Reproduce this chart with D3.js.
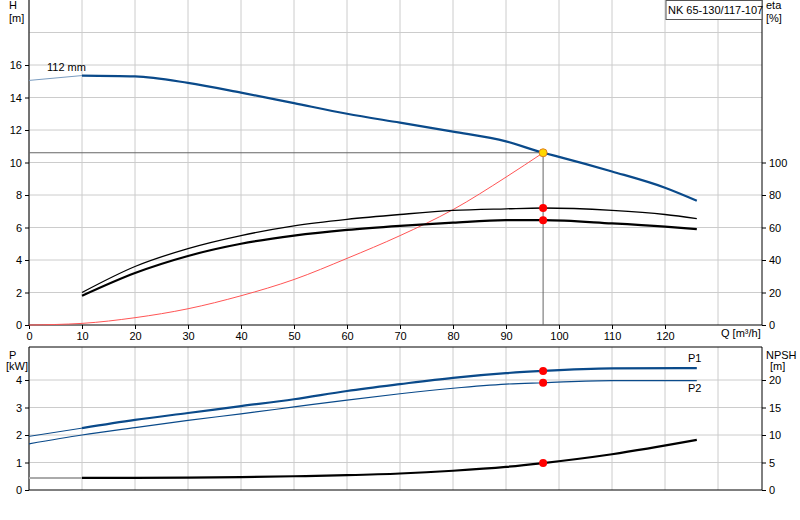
<!DOCTYPE html><html><head><meta charset="utf-8"><script src="https://cdn.jsdelivr.net/npm/d3@7"></script>
<style>body{margin:0;background:#fff}text{font-family:Arial,"Liberation Sans",sans-serif;font-size:11px;fill:#000}</style></head><body><svg width="800" height="520"></svg><script>
const qTicks=[0,10,20,30,40,50,60,70,80,90,100,110,120];
const hTicks=[0,2,4,6,8,10,12,14,16];
const etaTicks=[0,20,40,60,80,100];
const pTicks=[0,1,2,3,4];
const npshTicks=[0,5,10,15,20];
const hQ=[10,20,30,40,50,60,70,80,90,97,100,110,120,126];
const hVal=[15.35,15.3,14.9,14.3,13.65,13.0,12.45,11.9,11.3,10.6,10.35,9.45,8.45,7.65];
const hExt=[[0,15.05],[10,15.35]];
const etaQ=[10,20,30,40,50,60,70,80,90,97,110,120,126];
const eta1=[20,36,47,55,61,65,68,70.5,71.5,72,70.5,68,65.5];
const eta2=[18,32,42.5,50,55,58.5,61,63,64.5,64.5,62.5,60.5,59];
const sysQ=[0,10,20,30,40,50,60,70,80,90,97];
const sysH=[0,0.1,0.45,1.0,1.8,2.8,4.1,5.5,7.1,9.1,10.6];
const pQ=[0,10,20,30,40,50,60,70,80,90,97,110,126];
const p1=[1.95,2.25,2.55,2.8,3.05,3.3,3.6,3.85,4.08,4.25,4.33,4.42,4.43];
const p2=[1.68,2.0,2.27,2.53,2.77,3.02,3.27,3.5,3.7,3.85,3.9,3.98,3.98];
const nQ=[0,10,20,30,40,50,60,70,80,90,97,110,126];
const npsh=[2.2,2.2,2.2,2.25,2.35,2.5,2.7,3.0,3.5,4.2,4.9,6.5,9.1];
const duty={q:97,h:10.6,eta1:72,eta2:64.5,p1:4.33,p2:3.9,npsh:4.9};

const svg=d3.select("svg");
const x=d3.scaleLinear().domain([0,138.3]).range([29,762]);
const yH=d3.scaleLinear().domain([0,20]).range([325,0]);
const yE=d3.scaleLinear().domain([0,200]).range([325,0]);
const yP=d3.scaleLinear().domain([0,5.2]).range([490,347]);
const yN=d3.scaleLinear().domain([0,26]).range([490,347]);
function grid(yScale,vals,y0,y1){
  svg.append("g").selectAll("line").data(qTicks.concat([130])).join("line").attr("x1",d=>x(d)).attr("x2",d=>x(d)).attr("y1",y0).attr("y2",y1).attr("stroke","#ccc");
  svg.append("g").selectAll("line").data(vals).join("line").attr("x1",29).attr("x2",762).attr("y1",d=>yScale(d)).attr("y2",d=>yScale(d)).attr("stroke","#ccc");
}
grid(yH,[2,4,6,8,10,12,14,16,18],0,325);
grid(yP,[1,2,3,4],347,490);
const fmt=d3.format("d");
svg.append("g").attr("transform","translate(29,0)").call(d3.axisLeft(yH).tickValues(hTicks).tickFormat(fmt).tickSize(4)).call(g=>g.select(".domain").attr("d","M0,0V325"));
svg.append("g").attr("transform","translate(762,0)").call(d3.axisRight(yE).tickValues(etaTicks).tickFormat(fmt).tickSize(4)).call(g=>g.select(".domain").attr("d","M0,0V325"));
svg.append("g").attr("transform","translate(0,325)").call(d3.axisBottom(x).tickValues(qTicks).tickFormat(fmt).tickSize(4)).call(g=>g.select(".domain").attr("d","M29,0H762"));
svg.append("g").attr("transform","translate(29,0)").call(d3.axisLeft(yP).tickValues(pTicks).tickFormat(fmt).tickSize(4)).call(g=>g.select(".domain").attr("d","M0,347V490"));
svg.append("g").attr("transform","translate(762,0)").call(d3.axisRight(yN).tickValues(npshTicks).tickFormat(fmt).tickSize(4)).call(g=>g.select(".domain").attr("d","M0,347V490"));
svg.append("line").attr("x1",29).attr("x2",762).attr("y1",490).attr("y2",490).attr("stroke","#000");
svg.append("line").attr("x1",29).attr("x2",762).attr("y1",347).attr("y2",347).attr("stroke","#000");
svg.selectAll(".tick text").style("font-size","11px");
svg.selectAll(".tick line").attr("stroke","#000");
const T=(t,xx,yy,a)=>svg.append("text").attr("x",xx).attr("y",yy).attr("text-anchor",a||"start").text(t);
T("H",9,9);T("[m]",9,22);T("eta",766,9);T("[%]",766,22);
T("P",9,359);T("[kW]",6,370);T("NPSH",766,359);T("[m]",770,370);
T("Q [m³/h]",721,337);T("112 mm",47,71);T("P1",688,362);T("P2",688,392);
svg.append("rect").attr("x",666).attr("y",0.5).attr("width",96).attr("height",19).attr("fill","#fff").attr("stroke","#555");
T("NK 65-130/117-107",668,14);
svg.append("line").attr("x1",29).attr("x2",x(duty.q)).attr("y1",yH(duty.h)).attr("y2",yH(duty.h)).attr("stroke","#666");
svg.append("line").attr("x1",x(duty.q)).attr("x2",x(duty.q)).attr("y1",yH(duty.h)).attr("y2",325).attr("stroke","#666");
const L=(xs,ys,sx,sy,c,w)=>svg.append("path").datum(xs.map((q,i)=>[q,ys[i]])).attr("fill","none").attr("stroke",c).attr("stroke-width",w).attr("d",d3.line().x(d=>x(d[0])).y(d=>sy(d[1])).curve(d3.curveMonotoneX));
L(sysQ,sysH,x,yH,"#f55",1);
svg.append("path").datum(hExt).attr("stroke","#7a9cc0").attr("fill","none").attr("d",d3.line().x(d=>x(d[0])).y(d=>yH(d[1])));
L(hQ,hVal,x,yH,"#0a4a8a",2.2);
L(etaQ,eta1,x,yE,"#000",1.3);
L(etaQ,eta2,x,yE,"#000",2.2);
L(pQ.slice(0,2),p1.slice(0,2),x,yP,"#0a4a8a",1);
L(pQ.slice(1),p1.slice(1),x,yP,"#0a4a8a",2.2);
L(pQ,p2,x,yP,"#0a4a8a",1.2);
L(nQ.slice(0,2),npsh.slice(0,2),x,yN,"#aaa",2);
L(nQ.slice(1),npsh.slice(1),x,yN,"#000",2.2);
const dot=(yy,c,s)=>svg.append("circle").attr("cx",x(duty.q)).attr("cy",yy).attr("r",4).attr("fill",c).attr("stroke",s||"none");
dot(yE(duty.eta1),"red");dot(yE(duty.eta2),"red");dot(yP(duty.p1),"red");dot(yP(duty.p2),"red");dot(yN(duty.npsh),"red");
dot(yH(duty.h),"#ffd700","#e08020");
</script></body></html>
